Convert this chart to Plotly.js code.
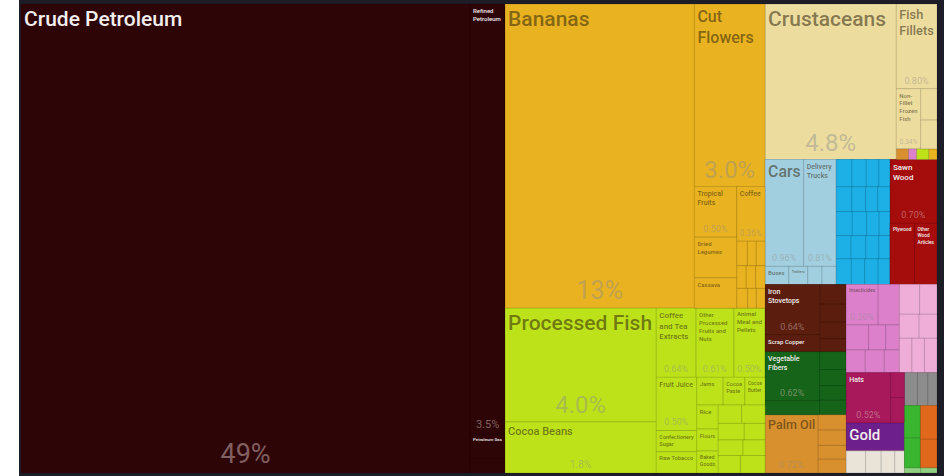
<!DOCTYPE html>
<html><head><meta charset="utf-8">
<script src="https://cdn.plot.ly/plotly-3.0.1.min.js"></script>
<style>html,body{margin:0;padding:0;background:#fff;}#chart{width:944px;height:476px;}</style>
</head><body><div id="chart"></div>
<script>
// ---- DATA (share of exports, %) ----
const ids = [
 'root','crude','minrest','refined','petgas','minoth',
 'vegfood','veg','bananas','vegright','cutflowers','vegsmall',
 'vsl','tropfruit','legumes','cassava','vsr','coffee',
 'vr1','vr1a','vr1b','vr1c','vr2','vr2a','vr2b','vr2c','vr3','vr3a','vr3b','vr3c',
 'food','foodleft','procfish','cocoa','foodright','frtop','coffeeext','procfruit','animalmeal',
 'frbot','frbl','fruitjuice','confect','rawtob','frbr','frbr1','jams','cocoapaste','cocoabutter',
 'frbr2','frc1','rice','flours','baked','frc2',
 'fq1','fq1a','fq1b','fq2','fq2a','fq2b','fq3','fq3a','fq3b','fq4','fq4a','fq4b',
 'rest','rowA','crust','fishcol','fillets','fishmid','nonfillet','fishoth','fo1','fo2',
 'fishstrip','fs1','fs2','fs3','fs4',
 'rowB','transport','topT','cars','trucks','botT','buses','trailers','t3','t4',
 'machines','m1','m1a','m1b','m1c','m1d','m2','m2a','m2b','m2c','m2d',
 'm3','m3a','m3b','m3c','m3d','m4','m4a','m4b','m4c','m4d','m5','m5a','m5b','m5c','m5d',
 'wood','sawnwood','woodbot','plywood','otherwood',
 'rowC','c1','metals','metL','ironstove','scrapcopper','metR','mr1','mr2','mr3','mr4',
 'textile','texL','texmain','texsmall','texR','tr1','tr2','tr3','tr4',
 'palmgrp','palmoil','palmR','pr1','pr2','pr3','pr4',
 'c2','pinkrow','chem','chemtop','insect','chemc','chemr2','cr2a','cr2b','cr2c','chemr3','cr3a','cr3b','cr3c',
 'plastics','pl1','pl1a','pl1b','pl2','pl2a','pl2b','pl3','pl3a','pl3b','pl3c',
 'botblock','bl','maggrp','magmain','magR','mg1','mg2','gold',
 'paper','pp1','pp2','pp3','pp4',
 'br','gray','g1','g2','g3','greenorange','green','gr1','gr2','orange','or1','or2','lightgreen','lg1','lg2'
];
const parents = [
 '','root','root','minrest','minrest','minrest',
 'root','vegfood','veg','veg','vegright','vegright',
 'vegsmall','vsl','vsl','vsl','vegsmall','vsr',
 'vsr','vr1','vr1','vr1','vsr','vr2','vr2','vr2','vsr','vr3','vr3','vr3',
 'vegfood','food','foodleft','foodleft','food','foodright','frtop','frtop','frtop',
 'foodright','frbot','frbl','frbl','frbl','frbot','frbr','frbr1','frbr1','frbr1',
 'frbr','frbr2','frc1','frc1','frc1','frbr2',
 'frc2','fq1','fq1','frc2','fq2','fq2','frc2','fq3','fq3','frc2','fq4','fq4',
 'root','rest','rowA','rowA','fishcol','fishcol','fishmid','fishmid','fishoth','fishoth',
 'fishcol','fishstrip','fishstrip','fishstrip','fishstrip',
 'rest','rowB','transport','topT','topT','transport','botT','botT','botT','botT',
 'rowB','machines','m1','m1','m1','m1','machines','m2','m2','m2','m2',
 'machines','m3','m3','m3','m3','machines','m4','m4','m4','m4','machines','m5','m5','m5','m5',
 'rowB','wood','wood','woodbot','woodbot',
 'rest','rowC','c1','metals','metL','metL','metals','metR','metR','metR','metR',
 'c1','textile','texL','texL','textile','texR','texR','texR','texR',
 'c1','palmgrp','palmgrp','palmR','palmR','palmR','palmR',
 'rowC','c2','pinkrow','chem','chemtop','chemtop','chem','chemr2','chemr2','chemr2','chem','chemr3','chemr3','chemr3',
 'pinkrow','plastics','pl1','pl1','plastics','pl2','pl2','plastics','pl3','pl3','pl3',
 'c2','botblock','bl','maggrp','maggrp','magR','magR','bl',
 'bl','paper','paper','paper','paper',
 'botblock','br','gray','gray','gray','br','greenorange','green','green','greenorange','orange','orange','br','lightgreen','lightgreen'
];
const labels = [
 '','Crude Petroleum','','Refined<br>Petroleum','Petroleum Gas','',
 '','','Bananas','','Cut<br>Flowers','',
 '','Tropical<br>Fruits','Dried<br>Legumes','Cassava','','Coffee',
 '','','','','','','','','','','','',
 '','','Processed Fish','Cocoa Beans','','','Coffee<br>and Tea<br>Extracts','Other<br>Processed<br>Fruits and<br>Nuts','Animal<br>Meal and<br>Pellets',
 '','','Fruit Juice','Confectionery<br>Sugar','Raw Tobacco','','','Jams','Cocoa<br>Paste','Cocoa<br>Butter',
 '','','Rice','Flours','Baked<br>Goods','',
 '','','','','','','','','','','','',
 '','','Crustaceans','','Fish<br>Fillets','','Non-<br>Fillet<br>Frozen<br>Fish','','','',
 '','','','','',
 '','','','Cars','Delivery<br>Trucks','','Buses','Trailers','','',
 '','','','','','','','','','','',
 '','','','','','','','','','','','','','','',
 '','Sawn<br>Wood','','Plywood','Other<br>Wood<br>Articles',
 '','','','','Iron<br>Stovetops','Scrap Copper','','','','','',
 '','','Vegetable<br>Fibers','','','','','','',
 '','Palm Oil','','','','','',
 '','','','','Insecticides','','','','','','','','','',
 '','','','','','','','','','','',
 '','','','Hats','','','','Gold',
 '','','','','',
 '','','','','','','','','','','','','','',''
];
const values = [
 0,49.0,0,3.5,0.2,0.12,
 0,0,13.4,0,3.0,0,
 0,0.50,0.40,0.30,0,0.36,
 0,0.06,0.05,0.05,0,0.05,0.05,0.05,0,0.05,0.04,0.04,
 0,0,4.0,1.8,0,0,0.64,0.61,0.50,
 0,0,0.50,0.20,0.20,0,0,0.17,0.14,0.13,
 0,0,0.12,0.11,0.11,0,
 0,0.10,0.10,0,0.10,0.08,0,0.09,0.08,0,0.09,0.10,
 0,0,4.75,0,0.80,0,0.34,0,0.12,0.11,
 0,0.03,0.02,0.03,0.02,
 0,0,0,0.96,0.81,0,0.10,0.08,0.06,0.06,
 0,0,0.10,0.09,0.08,0.07,0,0.09,0.08,0.07,0.07,
 0,0.09,0.08,0.07,0.06,0,0.08,0.08,0.07,0.06,0,0.09,0.08,0.08,0.07,
 0,0.70,0,0.35,0.32,
 0,0,0,0,0.64,0.22,0,0.12,0.11,0.10,0.08,
 0,0,0.62,0.18,0,0.11,0.10,0.09,0.09,
 0,0.72,0,0.10,0.10,0.09,0.09,
 0,0,0,0,0.30,0.20,0,0.13,0.10,0.08,0,0.10,0.10,0.08,
 0,0,0.14,0.12,0,0.11,0.10,0,0.10,0.10,0.10,
 0,0,0,0.52,0,0.08,0.08,0.38,
 0,0.10,0.08,0.07,0.05,
 0,0,0.10,0.08,0.07,0,0,0.12,0.11,0,0.13,0.11,0,0.02,0.02
];
const sectors = [
 'Root','Mineral','Mineral','Mineral','Mineral','Mineral',
 'Veg','Veg','Veg','Veg','Veg','Veg',
 'Veg','Veg','Veg','Veg','Veg','Veg',
 'Veg','Veg','Veg','Veg','Veg','Veg','Veg','Veg','Veg','Veg','Veg','Veg',
 'Food','Food','Food','Food','Food','Food','Food','Food','Food',
 'Food','Food','Food','Food','Food','Food','Food','Food','Food','Food',
 'Food','Food','Food','Food','Food','Food',
 'Food','Food','Food','Food','Food','Food','Food','Food','Food','Food','Food','Food',
 'Animal','Animal','Animal','Animal','Animal','Animal','Animal','Animal','Animal','Animal',
 'Animal','Fats','Chem','Food','Veg',
 'Transport','Transport','Transport','Transport','Transport','Transport','Transport','Transport','Transport','Transport',
 'Machines','Machines','Machines','Machines','Machines','Machines','Machines','Machines','Machines','Machines','Machines',
 'Machines','Machines','Machines','Machines','Machines','Machines','Machines','Machines','Machines','Machines','Machines','Machines','Machines','Machines','Machines',
 'Wood','Wood','Wood','Wood','Wood',
 'Metals','Metals','Metals','Metals','Metals','Metals','Metals','Metals','Metals','Metals','Metals',
 'Textiles','Textiles','Textiles','Textiles','Textiles','Textiles','Textiles','Textiles','Textiles',
 'Fats','Fats','Fats','Fats','Fats','Fats','Fats',
 'Chem','Chem','Chem','Chem','Chem','Chem','Chem','Chem','Chem','Chem','Chem','Chem','Chem','Chem',
 'Plastics','Plastics','Plastics','Plastics','Plastics','Plastics','Plastics','Plastics','Plastics','Plastics','Plastics',
 'Headwear','Headwear','Headwear','Headwear','Headwear','Headwear','Headwear','Gold',
 'Paper','Paper','Paper','Paper','Paper',
 'Stone','Stone','Stone','Stone','Stone','Green','Green','Green','Green','Orange','Orange','Orange','LightGreen','LightGreen','LightGreen'
];
// items whose share is printed
const pctShown = ['crude','refined','bananas','cutflowers','tropfruit','coffee','procfish','cocoa',
 'coffeeext','procfruit','animalmeal','fruitjuice','crust','fillets','nonfillet','cars','trucks',
 'sawnwood','ironstove','texmain','palmoil','insect','magmain'];

// ---- STYLE ----
const sectorColor = {
 Root:'#1c1d27', Mineral:'#2d0507', Veg:'#e8b220', Food:'#bde21a', Animal:'#ecdc9e',
 Transport:'#a2cfdf', Machines:'#1cb0e6', Wood:'#a50c0c', Metals:'#5b1d0d', Textiles:'#156419',
 Fats:'#d8902e', Chem:'#dc80cc', Plastics:'#eeaed8', Headwear:'#a8195b', Gold:'#6d1f8b',
 Paper:'#e9e3d8', Stone:'#8c8c8c', Green:'#3ab530', Orange:'#e0681c', LightGreen:'#90d080'
};
const darkSectors = ['Mineral','Wood','Metals','Textiles','Headwear','Gold','Root'];
const labelSize = {crude:21, bananas:21, procfish:21, crust:21, cutflowers:16, fillets:13, cars:16,
 gold:15, palmoil:13, cocoa:11, fruitjuice:8, coffeeext:8, procfruit:6, animalmeal:7, trucks:7,
 sawnwood:8, ironstove:7, texmain:7, magmain:7, refined:6, tropfruit:7, coffee:7, insect:6};
const pctSize = {crude:27, bananas:25, cutflowers:24, crust:24, procfish:24, refined:11, cocoa:10};
const FONT = 'Roboto, "Liberation Sans", sans-serif';

const parentSet = new Set(parents);
const isLeaf = ids.map(id => !parentSet.has(id));
const colors = sectors.map(s => sectorColor[s]);
const labelColors = sectors.map(s => darkSectors.includes(s) ? '#f2eeee' : 'rgba(45,35,10,0.55)');
const pctColors = sectors.map(s => darkSectors.includes(s) ? 'rgba(215,185,185,0.5)' : 'rgba(140,140,140,0.45)');
const pctText = ids.map((id, i) => pctShown.includes(id) ? values[i].toPrecision(2) + '%' : '');

const common = {
  type: 'treemap', ids: ids, parents: parents, values: values, labels: ids,
  branchvalues: 'remainder', sort: false,
  tiling: {packing: 'slice-dice', pad: 0},
  pathbar: {visible: false}, hoverinfo: 'none', textinfo: 'text',
  domain: {x: [0, 1], y: [0, 1]}
};
const t1 = Object.assign({}, common, {
  text: labels, textposition: 'top left',
  marker: {colors: colors, pad: {t: 0, l: 0, r: 0, b: 0},
    line: {width: isLeaf.map(l => l ? 0.6 : 0), color: 'rgba(0,0,0,0.22)'}},
  leaf: {opacity: 1},
  textfont: {family: FONT, weight: 500, size: ids.map(id => labelSize[id] || 6), color: labelColors}
});
const t2 = Object.assign({}, common, {
  text: pctText, textposition: 'bottom center',
  marker: {colors: ids.map(() => 'rgba(0,0,0,0)'), pad: {t: 0, l: 0, r: 0, b: 0},
    line: {width: 0}},
  leaf: {opacity: 1},
  textfont: {family: FONT, size: ids.map(id => pctSize[id] || 9), color: pctColors}
});
const W = 916, H = 469;
const layout = {
  width: 944, height: 476, paper_bgcolor: '#1c1d27',
  margin: {l: 21, r: 7, t: 4, b: 3, pad: 0},
  showlegend: false,
  shapes: [{type: 'rect', xref: 'paper', yref: 'paper', x0: -21 / W, x1: -2 / W,
    y0: -4 / H, y1: 1 + 5 / H, fillcolor: '#ffffff', line: {width: 0}, layer: 'above'}]
};
Plotly.newPlot('chart', [t1, t2], layout, {displayModeBar: false, staticPlot: true});
</script>
</body></html>
